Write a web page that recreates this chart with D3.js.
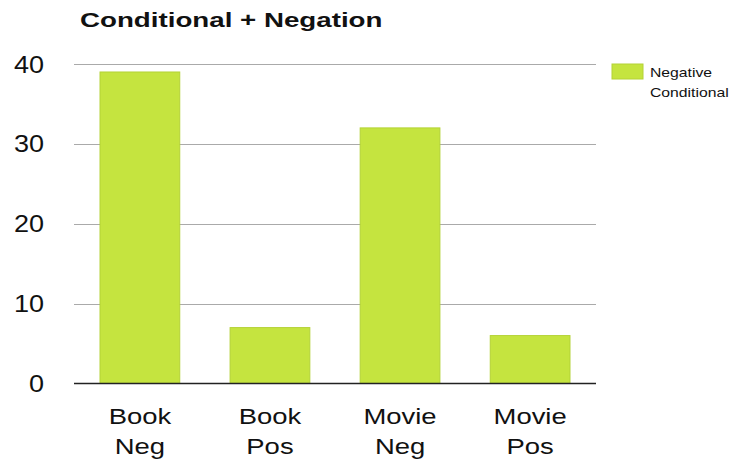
<!DOCTYPE html>
<html><head><meta charset="utf-8">
<script src="https://cdn.jsdelivr.net/npm/d3@7"></script>
<style>body{margin:0;background:#fff}svg{display:block}text{font-family:"Liberation Sans",Arial,sans-serif;fill:#111}</style>
</head><body><svg id="c" width="730" height="468"></svg>
<script>
const categories = [["Book","Neg"],["Book","Pos"],["Movie","Neg"],["Movie","Pos"]];
const values = [39, 7, 32, 6];
const yTicks = [0, 10, 20, 30, 40];
const title = "Conditional + Negation";
const seriesName = ["Negative", "Conditional"];

const svg = d3.select("#c");
const mLeft = 74, mRight = 596, mTop = 64, mBottom = 383.5;
const x = d3.scaleBand().domain(d3.range(categories.length)).range([mLeft, mRight]).paddingInner(0.387).paddingOuter(0.2);
const y = d3.scaleLinear().domain([0, 40]).range([mBottom, mTop]);

function place(sel, px, py, sx) { return sel.attr("transform", `translate(${px},${py}) scale(${sx},1)`); }

place(svg.append("text"), 80, 27, 1.32).attr("font-size", 21).attr("font-weight", "bold").text(title);

svg.append("g").selectAll("line").data(yTicks.filter(d => d > 0)).join("line")
  .attr("x1", mLeft).attr("x2", mRight).attr("y1", d => Math.round(y(d)) + 0.5).attr("y2", d => Math.round(y(d)) + 0.5)
  .attr("stroke", "#aaa").attr("stroke-width", 1.2);

svg.append("g").selectAll("text").data(yTicks).join("text")
  .attr("transform", d => `translate(44,${y(d) + 8.5}) scale(1.15,1)`)
  .attr("text-anchor", "end").attr("font-size", 23.5).text(d => d);

svg.append("g").selectAll("rect").data(values).join("rect")
  .attr("x", (d, i) => x(i)).attr("width", x.bandwidth())
  .attr("y", d => y(d)).attr("height", d => mBottom - y(d))
  .attr("fill", "#c5e43f").attr("stroke", "#b4d236").attr("stroke-width", 1);

svg.append("line").attr("x1", mLeft).attr("x2", mRight).attr("y1", mBottom).attr("y2", mBottom)
  .attr("stroke", "#222").attr("stroke-width", 1.5);

const xg = svg.append("g").selectAll("g").data(categories).join("g")
  .attr("transform", (d, i) => `translate(${x(i) + x.bandwidth() / 2},0) scale(1.22,1)`);
xg.each(function(d) {
  const g = d3.select(this);
  d.forEach((s, k) => g.append("text").attr("x", 0).attr("y", 424 + k * 30)
    .attr("text-anchor", "middle").attr("font-size", 22.5).text(s));
});

svg.append("rect").attr("x", 612).attr("y", 64).attr("width", 31).attr("height", 15)
  .attr("fill", "#c5e43f").attr("stroke", "#b4d236");
seriesName.forEach((s, k) => place(svg.append("text"), 650, 77 + k * 20, 1.26).attr("font-size", 12.5).text(s));
</script></body></html>
